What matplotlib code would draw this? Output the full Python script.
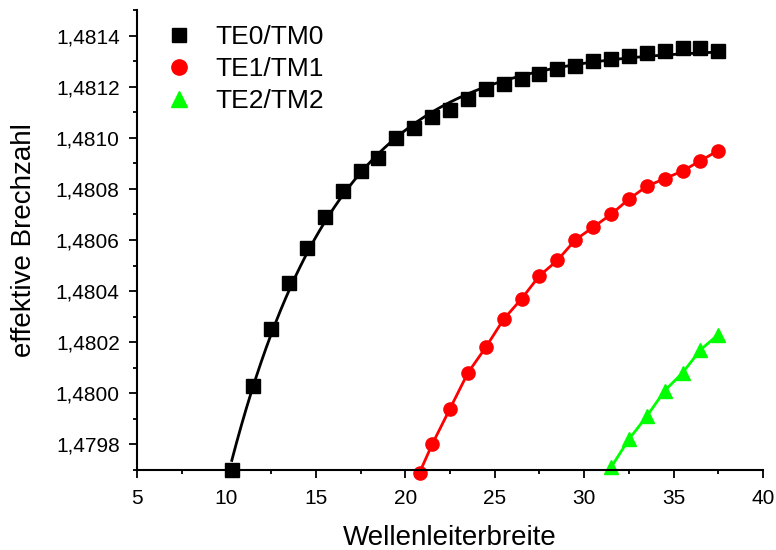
import numpy as np
import matplotlib
matplotlib.use("Agg")
import matplotlib.pyplot as plt
from matplotlib.lines import Line2D
from matplotlib.ticker import MultipleLocator, FuncFormatter

plt.rcParams['font.family'] = ['Liberation Sans', 'DejaVu Sans']

# mode TE0/TM0
x_te0 = [10.3, 11.5, 12.5, 13.5, 14.5, 15.5, 16.5, 17.5, 18.5, 19.5, 20.5, 21.5, 22.5, 23.5,
         24.5, 25.5, 26.5, 27.5, 28.5, 29.5, 30.5, 31.5, 32.5, 33.5, 34.5, 35.5, 36.5, 37.5]
n_te0 = [1.47970, 1.48003, 1.48025, 1.48043, 1.48057, 1.48069, 1.48079, 1.48087, 1.48092,
         1.48100, 1.48104, 1.48108, 1.48111, 1.48115, 1.48119, 1.48121, 1.48123, 1.48125,
         1.48127, 1.48128, 1.48130, 1.48131, 1.48132, 1.48133, 1.48134, 1.48135, 1.48135,
         1.48134]

# mode TE1/TM1
x_te1 = [20.8, 21.5, 22.5, 23.5, 24.5, 25.5, 26.5, 27.5, 28.5, 29.5, 30.5, 31.5, 32.5,
         33.5, 34.5, 35.5, 36.5, 37.5]
n_te1 = [1.47969, 1.47980, 1.47994, 1.48008, 1.48018, 1.48029, 1.48037, 1.48046, 1.48052,
         1.48060, 1.48065, 1.48070, 1.48076, 1.48081, 1.48084, 1.48087, 1.48091, 1.48095]

# mode TE2/TM2
x_te2 = [31.5, 32.5, 33.5, 34.5, 35.5, 36.5, 37.5]
n_te2 = [1.47971, 1.47982, 1.47991, 1.48001, 1.48008, 1.48017, 1.48023]

labels = ["TE0/TM0", "TE1/TM1", "TE2/TM2"]


def exp_fit(x, y):
    # y = a - b*exp(-x/t), grid search on t, least squares for a, b
    x = np.asarray(x)
    y = np.asarray(y)
    best = None
    for t in np.linspace(1, 30, 600):
        A = np.column_stack([np.ones_like(x), -np.exp(-x / t)])
        coef, res, _, _ = np.linalg.lstsq(A, y, rcond=None)
        err = np.sum((A @ coef - y) ** 2)
        if best is None or err < best[0]:
            best = (err, coef, t)
    _, (a, b), t = best
    return lambda xx: a - b * np.exp(-xx / t)


fig = plt.figure(figsize=(7.76, 5.5), dpi=100)
ax = fig.add_axes([137 / 776, 80 / 550, 626 / 776, 460 / 550])

fit = exp_fit(x_te0, n_te0)
xf = np.linspace(x_te0[0], x_te0[-1], 300)
ax.plot(xf, fit(xf), color="black", lw=2, clip_on=False)
ax.plot(x_te0, n_te0, ls="none", marker="s", ms=10, color="black", clip_on=False)
ax.plot(x_te1, n_te1, ls="-", lw=2, marker="o", ms=9.5, color="#ff0000", clip_on=False)
ax.plot(x_te2, n_te2, ls="-", lw=2, marker="^", ms=10.5, color="#00ff00", clip_on=False)

ax.set_xlim(5, 40)
ax.set_ylim(1.4797, 1.4815)
ax.xaxis.set_major_locator(MultipleLocator(5))
ax.xaxis.set_minor_locator(MultipleLocator(2.5))
ax.yaxis.set_major_locator(MultipleLocator(0.0002))
ax.yaxis.set_minor_locator(MultipleLocator(0.0001))
ax.yaxis.set_major_formatter(FuncFormatter(lambda v, p: f"{v:.4f}".replace(".", ",")))

for s in ["top", "right"]:
    ax.spines[s].set_visible(False)
for s in ["left", "bottom"]:
    ax.spines[s].set_linewidth(1.5)

ax.tick_params(which="major", direction="out", length=5.5, width=1.3)
ax.tick_params(which="minor", direction="out", length=3, width=1.3)
ax.tick_params(axis="x", which="major", labelsize=15, pad=8)
ax.tick_params(axis="y", which="major", labelsize=15, pad=7)

ax.set_xlabel("Wellenleiterbreite", fontsize=20)
ax.set_ylabel("effektive Brechzahl", fontsize=20)
ax.xaxis.set_label_coords(0.5, -0.12)
ax.yaxis.set_label_coords(-0.16, 0.5)

handles = [
    Line2D([], [], ls="none", marker="s", ms=10, color="black"),
    Line2D([], [], ls="none", marker="o", ms=11, color="#ff0000"),
    Line2D([], [], ls="none", marker="^", ms=12, color="#00ff00"),
]
ax.legend(handles, labels, loc="upper left", bbox_to_anchor=(163 / 776, 1 - 25 / 550),
          bbox_transform=fig.transFigure, frameon=False, fontsize=19,
          handlelength=1.2, handletextpad=0.8, borderpad=0, borderaxespad=0,
          labelspacing=0.3, numpoints=1)

fig.savefig("out.png", dpi=100)
